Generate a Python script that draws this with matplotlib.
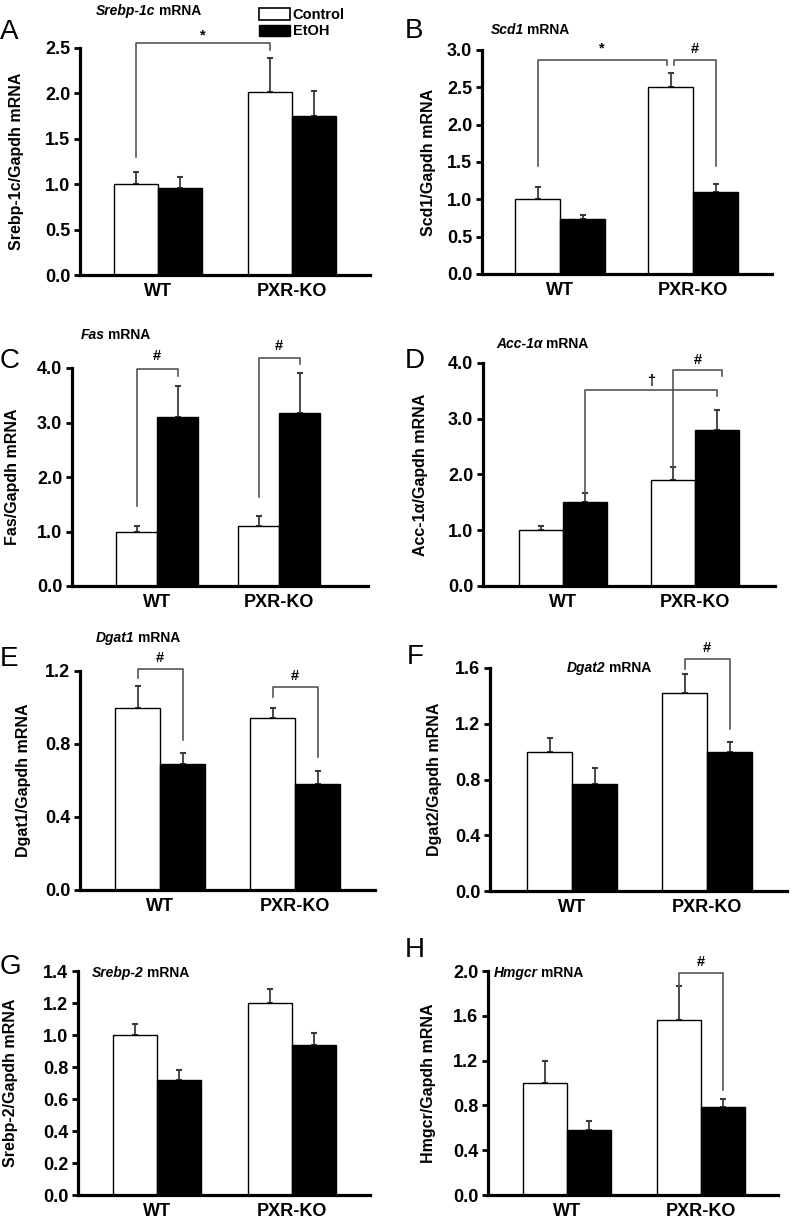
import matplotlib
matplotlib.use("Agg")
import matplotlib.pyplot as plt
from matplotlib.patches import Patch
from matplotlib.ticker import MultipleLocator, FormatStrFormatter

plt.rcParams['font.family'] = ['Liberation Sans', 'DejaVu Sans']

# --- data (one value per panel A..H) ---
panel_letters = ["A", "B", "C", "D", "E", "F", "G", "H"]
genes = ["Srebp-1c", "Scd1", "Fas", "Acc-1α", "Dgat1", "Dgat2", "Srebp-2", "Hmgcr"]
ylabels = ["Srebp-1c/Gapdh mRNA", "Scd1/Gapdh mRNA", "Fas/Gapdh mRNA",
           "Acc-1α/Gapdh mRNA", "Dgat1/Gapdh mRNA", "Dgat2/Gapdh mRNA",
           "Srebp-2/Gapdh mRNA", "Hmgcr/Gapdh mRNA"]
groups = ["WT", "PXR-KO"]

ctrl_wt = [1.00, 1.00, 1.00, 1.00, 1.00, 1.00, 1.00, 1.00]
ctrl_wt_err = [0.13, 0.17, 0.11, 0.08, 0.12, 0.10, 0.07, 0.20]
etoh_wt = [0.96, 0.74, 3.10, 1.50, 0.69, 0.77, 0.72, 0.58]
etoh_wt_err = [0.12, 0.05, 0.57, 0.16, 0.06, 0.11, 0.06, 0.08]
ctrl_ko = [2.01, 2.50, 1.11, 1.90, 0.94, 1.42, 1.20, 1.56]
ctrl_ko_err = [0.38, 0.19, 0.18, 0.23, 0.06, 0.14, 0.09, 0.31]
etoh_ko = [1.75, 1.10, 3.18, 2.80, 0.58, 1.00, 0.94, 0.79]
etoh_ko_err = [0.28, 0.10, 0.72, 0.36, 0.07, 0.07, 0.07, 0.07]

y_max = [2.5, 3.0, 4.0, 4.0, 1.2, 1.6, 1.4, 2.0]
y_step = [0.5, 0.5, 1.0, 1.0, 0.4, 0.4, 0.2, 0.4]

# significance brackets: (from bar, to bar, y start, y end, y top, symbol, symbol y, dx start, dx end)
# bars: 0 WT control, 1 WT EtOH, 2 KO control, 3 KO EtOH
brackets = [
    [(0, 2, 1.30, 2.48, 2.56, "*", 2.64, 0, 0)],
    [(0, 2, 1.44, 2.80, 2.87, "*", 3.02, 0, -0.03),
     (2, 3, 2.80, 1.44, 2.87, "#", 3.02, 0.03, 0)],
    [(0, 1, 1.46, 3.85, 3.99, "#", 4.22, 0, 0),
     (2, 3, 1.64, 4.07, 4.18, "#", 4.40, 0, 0)],
    [(1, 3, 1.54, 3.40, 3.51, "†", 3.67, 0, 0),
     (2, 3, 2.14, 3.76, 3.88, "#", 4.06, 0, 0.04)],
    [(0, 1, 1.16, 0.82, 1.21, "#", 1.27, 0, 0),
     (2, 3, 1.06, 0.73, 1.11, "#", 1.17, 0, 0)],
    [(2, 3, 1.595, 1.165, 1.667, "#", 1.74, 0, 0)],
    [],
    [(2, 3, 1.845, 0.94, 1.985, "#", 2.08, 0, 0)],
]

# --- layout in pixels: axes left, right, top, bottom; group centres; bar width ---
W, H = 792, 1222
axes_px = [(80, 370, 48, 275), (482, 772, 50, 274),
           (72, 368, 368, 586), (483, 775, 363, 586),
           (80, 375, 671, 890), (490, 787, 668, 891),
           (78, 370, 971, 1195), (488, 778, 971, 1195)]
centres_px = [(158, 292), (560, 693), (157, 279), (563, 695),
              (160, 295), (572, 707), (157, 292), (567, 701)]
bar_px = [44, 45, 41, 44, 45, 45, 44, 44]
ylabel_x_px = [17, 428, 13, 421, 24, 434, 10, 428]
letter_pos = [(0, 32), (405, 31), (0, 361), (405, 361), (0, 659), (407, 657), (0, 967), (405, 950)]
title_pos = [(96, 11), (491, 30), (81, 335), (496, 344), (96, 638), (567, 668), (92, 973), (494, 973)]

fig = plt.figure(figsize=(W / 100, H / 100), dpi=100)
line_gray = "#555555"

for i in range(8):
    x0, x1, yt, yb = axes_px[i]
    ax = fig.add_axes([x0 / W, 1 - yb / H, (x1 - x0) / W, (yb - yt) / H])
    c0, c1 = centres_px[i]
    unit = c1 - c0
    w = bar_px[i] / unit
    ax.set_xlim((x0 - c0) / unit, (x1 - c0) / unit)
    ax.set_ylim(0, y_max[i])

    xpos = [-w / 2, w / 2, 1 - w / 2, 1 + w / 2]
    vals = [ctrl_wt[i], etoh_wt[i], ctrl_ko[i], etoh_ko[i]]
    errs = [ctrl_wt_err[i], etoh_wt_err[i], ctrl_ko_err[i], etoh_ko_err[i]]
    colors = ["white", "black", "white", "black"]
    for xp, v, e, c in zip(xpos, vals, errs, colors):
        ax.errorbar(xp, v, yerr=[[0], [e]], fmt="none", ecolor="#3a3a3a",
                    elinewidth=1.3, capsize=2.5, capthick=1.5, zorder=1)
        ax.bar(xp, v, width=w, color=c, edgecolor="black", linewidth=1.0, zorder=2)

    for (a, b, ys, ye, ytop, sym, sy, dxa, dxb) in brackets[i]:
        xa = xpos[a] + dxa
        xb = xpos[b] + dxb
        ax.plot([xa, xa, xb, xb], [ys, ytop, ytop, ye], color=line_gray,
                linewidth=1.2, clip_on=False, zorder=3)
        ax.text((xa + xb) / 2, sy, sym, ha="center", va="center",
                fontsize=10.5, fontweight="bold", clip_on=False)

    for s in ["top", "right"]:
        ax.spines[s].set_visible(False)
    for s in ["left", "bottom"]:
        ax.spines[s].set_linewidth(2.3)
    ax.yaxis.set_major_locator(MultipleLocator(y_step[i]))
    ax.yaxis.set_major_formatter(FormatStrFormatter("%.1f"))
    ax.tick_params(axis="y", direction="out", length=4, width=2, pad=3, labelsize=13)
    ax.tick_params(axis="x", length=0, pad=6, labelsize=13)
    ax.set_xticks([0, 1])
    ax.set_xticklabels(groups)
    for lab in ax.get_xticklabels() + ax.get_yticklabels():
        lab.set_fontweight("bold")
    ax.set_ylabel(ylabels[i], fontsize=11.5, fontweight="bold", va="center")
    ax.yaxis.set_label_coords((ylabel_x_px[i] - x0) / (x1 - x0), 0.5)

    lx, ly = letter_pos[i]
    fig.text(lx / W, 1 - ly / H, panel_letters[i], fontsize=20, ha="left", va="center")
    tx, ty = title_pos[i]
    t1 = fig.text(tx / W, 1 - ty / H, genes[i], fontsize=10, fontweight="bold",
                  fontstyle="italic", ha="left", va="center")
    ax.annotate("mRNA", xy=(1, 0.5), xycoords=t1, xytext=(2.2, 0),
                textcoords="offset points", fontsize=10, fontweight="bold",
                ha="left", va="center")

handles = [Patch(facecolor="white", edgecolor="black", linewidth=1.2, label="Control"),
           Patch(facecolor="black", edgecolor="black", label="EtOH")]
fig.legend(handles=handles, loc="upper left", bbox_to_anchor=(252 / W, 1 - 1 / H),
           frameon=False, handlelength=2.1, handleheight=0.85,
           labelspacing=0.15, handletextpad=0.2, borderpad=0,
           prop={"weight": "bold", "size": 10.5})

fig.savefig("out.png", dpi=100)
